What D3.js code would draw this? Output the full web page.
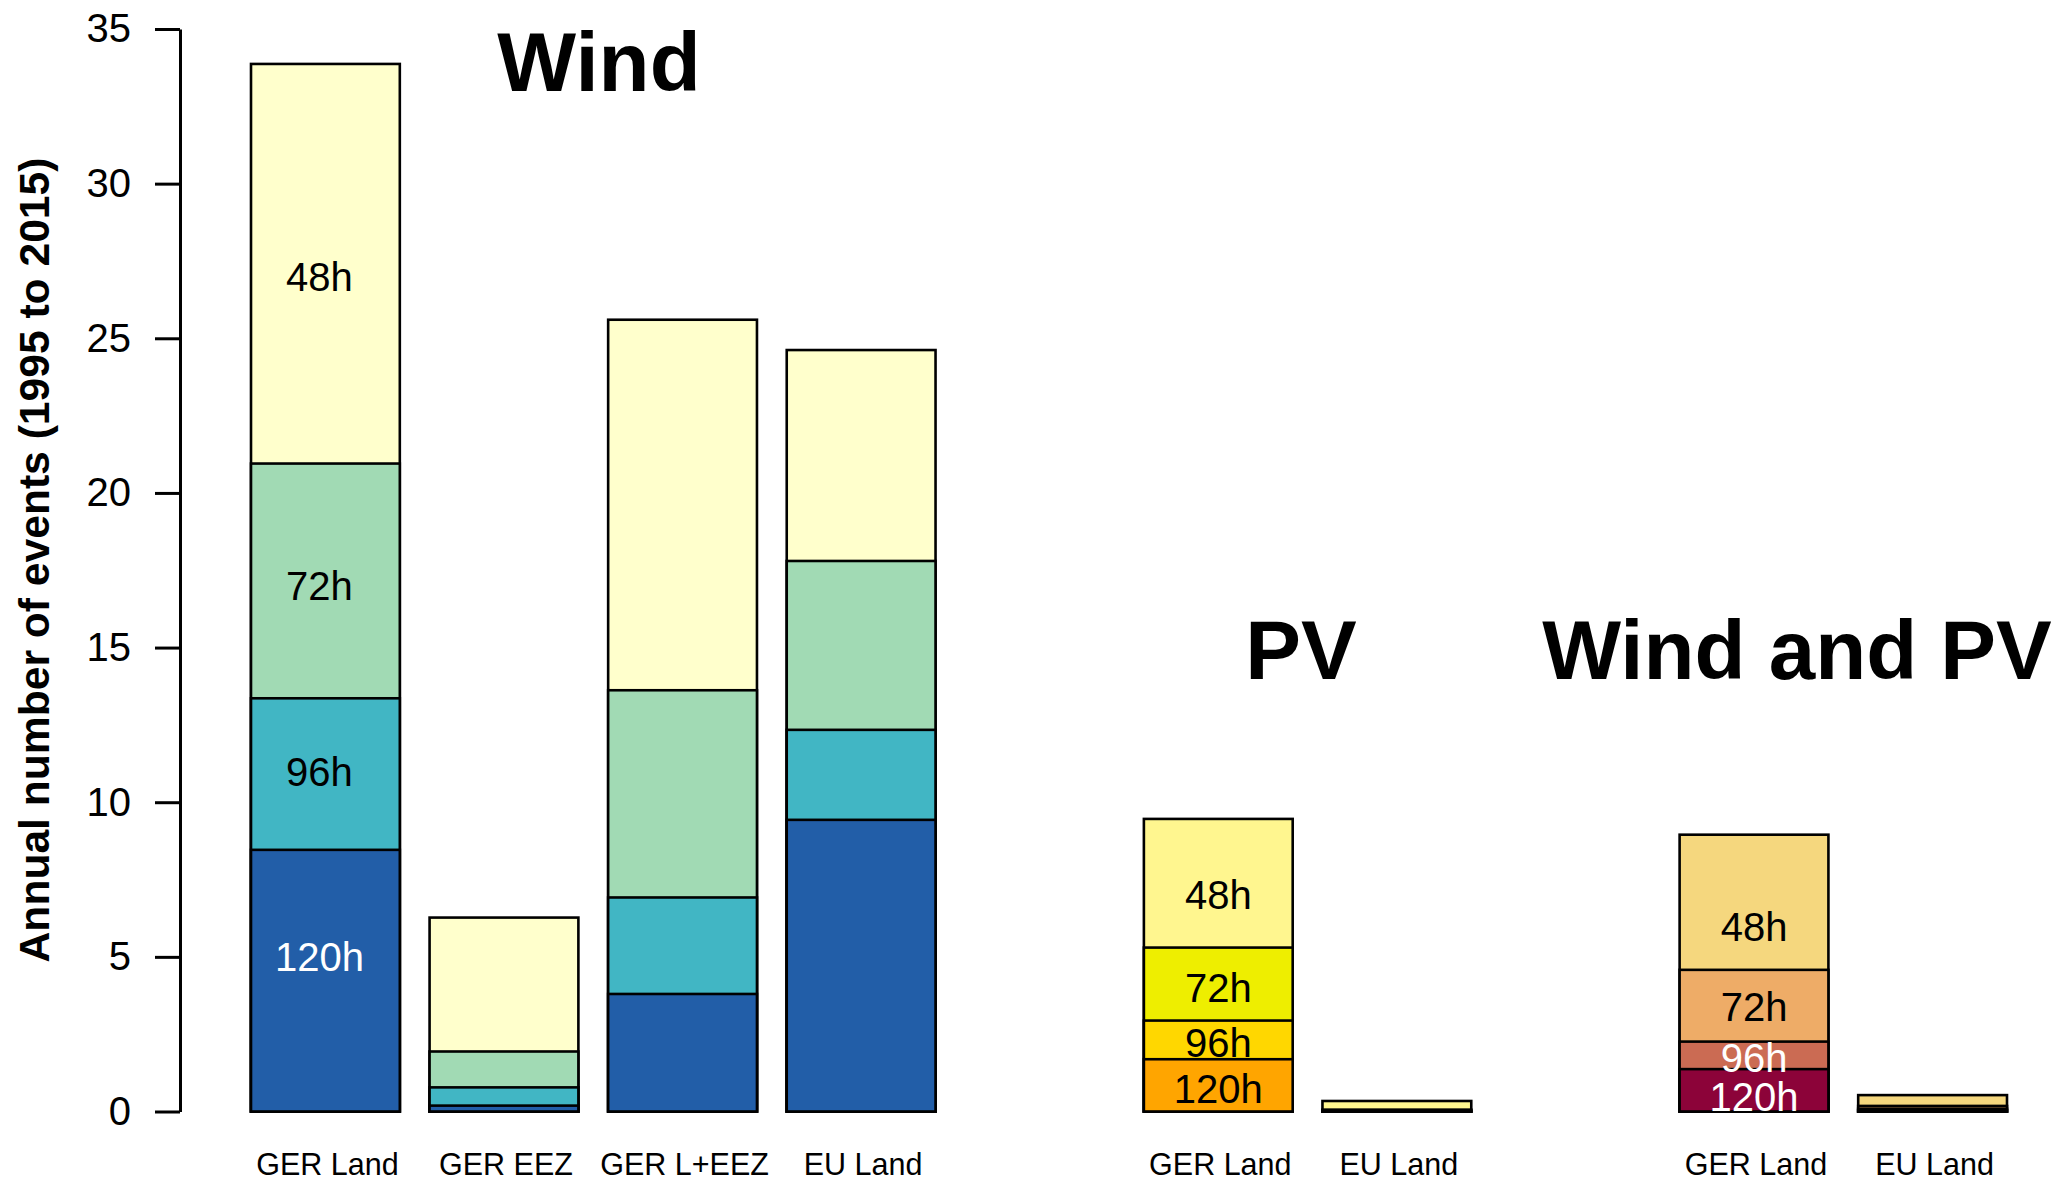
<!DOCTYPE html>
<html>
<head>
<meta charset="utf-8">
<script src="https://cdn.jsdelivr.net/npm/d3@7"></script>
<style>
  body { margin: 0; background: #fff; }
  svg { display: block; font-family: "Liberation Sans", Arial, sans-serif; }
</style>
</head>
<body>
<script>

// slots along the x axis, two empty ones separate the three groups
var slots = ["w1", "w2", "w3", "w4", "gapA", "p1", "p2", "gapB", "b1", "b2"];
var windSlots = ["w1", "w2", "w3", "w4"];
var pvSlots = ["p1", "p2"];
var bothSlots = ["b1", "b2"];

var windNames = ["GER Land", "GER EEZ", "GER L+EEZ", "EU Land"];
var pvNames = ["GER Land", "EU Land"];
var bothNames = ["GER Land", "EU Land"];

var durations = ["48h", "72h", "96h", "120h"];

// annual number of events lasting at least the given duration
var wind48 = [33.87, 6.27, 25.6, 24.62];
var wind72 = [20.95, 1.94, 13.62, 17.8];
var wind96 = [13.36, 0.78, 6.92, 12.34];
var wind120 = [8.46, 0.19, 3.8, 9.43];

var pv48 = [9.46, 0.34];
var pv72 = [5.3, 0.06];
var pv96 = [2.94, 0.03];
var pv120 = [1.69, 0.01];

var both48 = [8.95, 0.53];
var both72 = [4.58, 0.18];
var both96 = [2.26, 0.09];
var both120 = [1.37, 0.04];

// where the duration labels sit on the first bar of each group (in events)
var windLabelAt = [27, 17, 11, 5];
var pvLabelAt = [7, 4, 2.23, 0.73];
var bothLabelAt = [5.98, 3.39, 1.73, 0.49];

var yTicks = [0, 5, 10, 15, 20, 25, 30, 35];

var windColors = ["#FFFFCC", "#A1DAB4", "#41B6C4", "#225EA8"];
var pvColors = ["#FFF68F", "#EEEE00", "#FFD700", "#FFA500"];
var bothColors = ["#F5D77E", "#EEAC67", "#CB6B53", "#8C0339"];

var width = 2067,
    height = 1192;

var svg = d3.select("body").append("svg")
    .attr("width", width)
    .attr("height", height);

var x = d3.scaleBand()
    .domain(slots)
    .range([251, 2007])
    .paddingInner(1 / 6)
    .paddingOuter(0);

var y = d3.scaleLinear()
    .domain([0, 35])
    .range([1111.5, 29]);

// y axis, R style: line only from 0 to 35
var yAxis = svg.append("g")
    .attr("transform", "translate(180,0)")
    .call(d3.axisLeft(y).tickValues(yTicks).tickSize(25).tickSizeOuter(0).tickPadding(24));

yAxis.select(".domain").attr("stroke", "#000").attr("stroke-width", 3);
yAxis.selectAll(".tick line").attr("stroke", "#000").attr("stroke-width", 3);
yAxis.selectAll(".tick text")
    .attr("fill", "#000")
    .style("font-size", "40px")
    .style("font-family", "'Liberation Sans', Arial, sans-serif");

svg.append("text")
    .attr("transform", "translate(49,560) rotate(-90)")
    .attr("text-anchor", "middle")
    .style("font-size", "42.6px")
    .style("font-weight", "bold")
    .text("Annual number of events (1995 to 2015)");

function drawGroup(slotIds, names, series, colors, labelAt, labelFill, labelShift) {
    // biggest first, shorter-duration bars are drawn over them
    series.forEach(function (vals, k) {
        svg.selectAll(null)
            .data(vals)
            .enter().append("rect")
            .attr("x", function (d, i) { return x(slotIds[i]); })
            .attr("width", x.bandwidth())
            .attr("y", function (d) { return y(d); })
            .attr("height", function (d) { return y(0) - y(d); })
            .attr("fill", colors[k])
            .attr("stroke", "#000")
            .attr("stroke-width", 2.6);
    });

    // labels of the durations on the first bar
    svg.selectAll(null)
        .data(durations)
        .enter().append("text")
        .attr("x", x(slotIds[0]) + x.bandwidth() / 2 + labelShift)
        .attr("y", function (d, k) { return y(labelAt[k]); })
        .attr("dy", "0.36em")
        .attr("text-anchor", "middle")
        .attr("fill", function (d, k) { return labelFill[k]; })
        .style("font-size", "40px")
        .text(function (d) { return d; });

    // category names under the bars
    svg.selectAll(null)
        .data(names)
        .enter().append("text")
        .attr("x", function (d, i) { return x(slotIds[i]) + x.bandwidth() / 2 + 2; })
        .attr("y", 1175)
        .attr("text-anchor", "middle")
        .style("font-size", "30.5px")
        .text(function (d) { return d; });
}

drawGroup(windSlots, windNames, [wind48, wind72, wind96, wind120], windColors,
    windLabelAt, ["#000", "#000", "#000", "#fff"], -6);
drawGroup(pvSlots, pvNames, [pv48, pv72, pv96, pv120], pvColors,
    pvLabelAt, ["#000", "#000", "#000", "#000"], 0);
drawGroup(bothSlots, bothNames, [both48, both72, both96, both120], bothColors,
    bothLabelAt, ["#000", "#000", "#fff", "#fff"], 0);

// group titles
var titles = [
    {text: "Wind", cx: 599, base: 91},
    {text: "PV", cx: 1301, base: 679},
    {text: "Wind and PV", cx: 1797, base: 679}
];

svg.selectAll(null)
    .data(titles)
    .enter().append("text")
    .attr("x", function (d) { return d.cx; })
    .attr("y", function (d) { return d.base; })
    .attr("text-anchor", "middle")
    .style("font-size", "83.5px")
    .style("font-weight", "bold")
    .text(function (d) { return d.text; });

</script>
</body>
</html>
